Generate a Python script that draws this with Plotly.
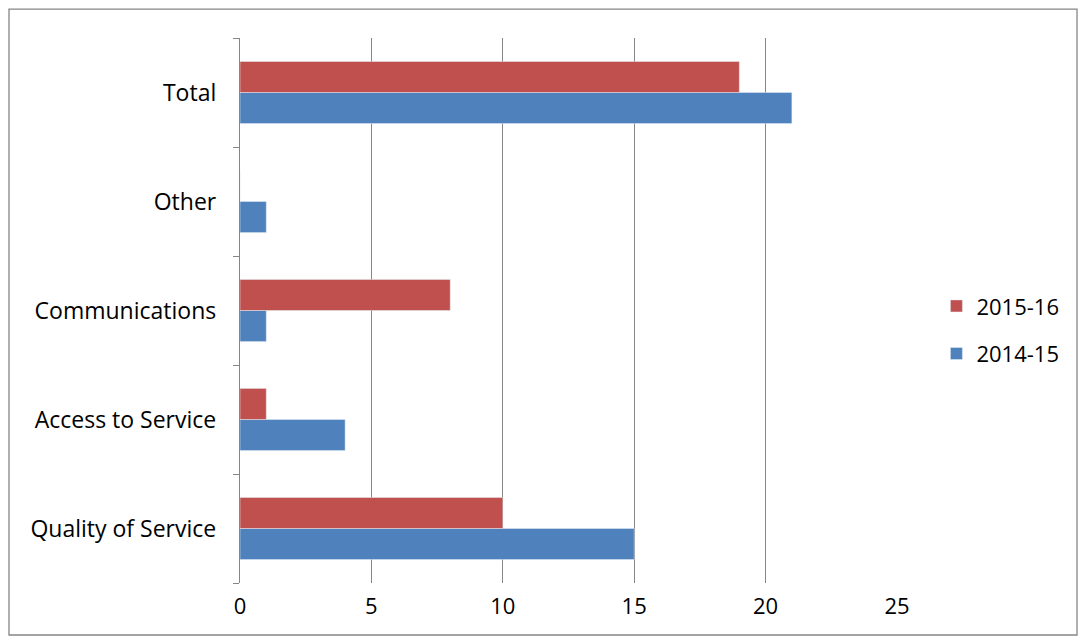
import plotly.graph_objects as go

categories = ["Quality of Service", "Access to Service", "Communications", "Other", "Total"]
y2014 = [15, 4, 1, 1, 21]
y2015 = [10, 1, 8, 0, 19]

fig = go.Figure()
fig.add_trace(go.Bar(y=categories, x=y2014, name="2014-15", orientation="h",
                     legendgroup="b", legendrank=2, marker=dict(color="#4F81BD")))
fig.add_trace(go.Bar(y=categories, x=y2015, name="2015-16", orientation="h",
                     legendgroup="a", legendrank=1, marker=dict(color="#C0504D")))

fig.update_layout(
    width=1070, height=628,
    margin=dict(l=232, r=181, t=30, b=53),
    barmode="group", bargap=0.43, bargroupgap=0,
    plot_bgcolor="white", paper_bgcolor="white",
    font=dict(family="Open Sans, Arial", size=23, color="black"),
    legend=dict(x=1.06, y=0.464, yanchor="middle", traceorder="grouped",
                font=dict(size=22), tracegroupgap=16),
    xaxis=dict(range=[0, 25], dtick=5, showgrid=True, gridcolor="#868686",
               gridwidth=1.3, zeroline=False, ticks="", ticklen=0,
               ticklabelstandoff=8, tickfont=dict(size=22)),
    yaxis=dict(showline=True, linecolor="#868686", linewidth=1.3,
               ticks="outside", tickson="boundaries", ticklen=6,
               tickcolor="#868686", showgrid=False, ticklabelstandoff=18,
               tickfont=dict(size=23)),
    shapes=[dict(type="rect", xref="paper", yref="paper",
                 x0=-0.3516, x1=1.274, y0=-0.0954, y1=1.053,
                 line=dict(color="#868686", width=1.3))],
)

fig.write_html("out.html")
